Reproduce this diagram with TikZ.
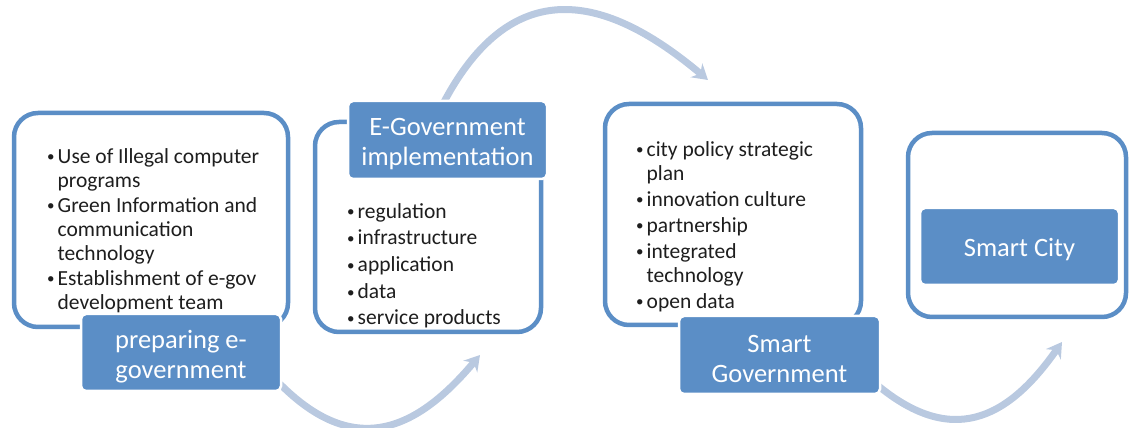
\documentclass[tikz,border=0pt]{standalone}
\usepackage{fontspec}
\setmainfont{Carlito}
\usetikzlibrary{arrows.meta,backgrounds}

\definecolor{stageblue}{RGB}{91,142,198}
\definecolor{flowgray}{RGB}{185,201,224}
\definecolor{listtext}{RGB}{30,30,30}

% bullet and hanging indent for the item lists
\newcommand{\bitem}{\makebox[10.5pt][l]{\raisebox{1.2pt}{\fontsize{15}{15}\selectfont\textbullet}}}
\newcommand{\bcont}{\hspace*{10.5pt}}

\begin{document}
\begin{tikzpicture}[x=1pt,y=1pt,
  outerbox/.style={draw=stageblue, line width=4.5pt, rounded corners=24pt, fill=white, inner sep=0pt},
  stagelabel/.style={fill=stageblue, draw=white, line width=2.5pt, rounded corners=5pt, inner sep=0pt},
  stagetext/.style={text=white, align=center, inner sep=0pt, font=\fontsize{26.5}{30}\selectfont},
  itemlist/.style={anchor=north west, align=left, inner sep=0pt, text=listtext,
    font=\fontsize{21.5}{24}\selectfont},
  flowarrow/.style={draw=flowgray, line width=7pt, -{Stealth[length=15pt,width=18pt,inset=5pt]}}]

	\useasboundingbox (0,0) rectangle (1130,428);

	% frames
	\node[outerbox, minimum width=274pt, minimum height=214pt] (prepbox) at (151,208) {};
	\node[outerbox, minimum width=226pt, minimum height=210pt] (implbox) at (428,201) {};
	\node[outerbox, minimum width=256pt, minimum height=221pt] (smartbox) at (733,213.5) {};
	\node[outerbox, minimum width=218pt, minimum height=184pt] (citybox) at (1017,203) {};

	% item lists
	\node[itemlist] (preplist) at (47,280) {\bitem Use of Illegal computer\\
		\bcont programs\\[1pt]
		\bitem Green Information and\\
		\bcont communication\\
		\bcont technology\\[1pt]
		\bitem Establishment of e-gov\\
		\bcont development team};
	\node[itemlist] (impllist) at (347,225) {\bitem regulation\\[2.7pt]
		\bitem infrastructure\\[2.7pt]
		\bitem application\\[2.7pt]
		\bitem data\\[2.7pt]
		\bitem service products};
	\node[itemlist] (smartlist) at (636,287) {\bitem city policy strategic\\
		\bcont plan\\[2pt]
		\bitem innovation culture\\[2pt]
		\bitem partnership\\[2pt]
		\bitem integrated\\
		\bcont technology\\[2pt]
		\bitem open data};

	% stage labels
	\node[stagelabel, minimum width=200pt, minimum height=77pt] (prep) at (181,75.5) {};
	\node[stagelabel, minimum width=199pt, minimum height=78pt] (impl) at (447.5,288) {};
	\node[stagelabel, minimum width=201pt, minimum height=78pt] (smart) at (779.5,73) {};
	\node[stagelabel, minimum width=199pt, minimum height=77pt] (city) at (1019.5,181.5) {};
	\node[stagetext] (preptext) at ([yshift=-4pt]prep.center) {preparing e-\\government};
	\node[stagetext] (impltext) at ([yshift=-4pt]impl.center) {E-Government\\implementation};
	\node[stagetext] (smarttext) at ([yshift=-4pt]smart.center) {Smart\\Government};
	\node[stagetext] (citytext) at ([yshift=-3pt]city.center) {Smart City};

	% curved arrows between the stages
	\coordinate (f1s) at (280,44);
	\coordinate (f1e) at (480,73);
	\coordinate (f2s) at (444,326);
	\coordinate (f2e) at (708,348);
	\coordinate (f3s) at (876,44);
	\coordinate (f3e) at (1062,86);
	\begin{pgfonlayer}{background}
		\draw[flowarrow] (f1s) to[out=-45, in=230, looseness=1.3] (f1e);
		\draw[flowarrow] (f2s) .. controls (519,467) and (620,422) .. (f2e);
		\draw[flowarrow] (f3s) to[out=-40, in=235, looseness=1.3] (f3e);
	\end{pgfonlayer}
\end{tikzpicture}
\end{document}
